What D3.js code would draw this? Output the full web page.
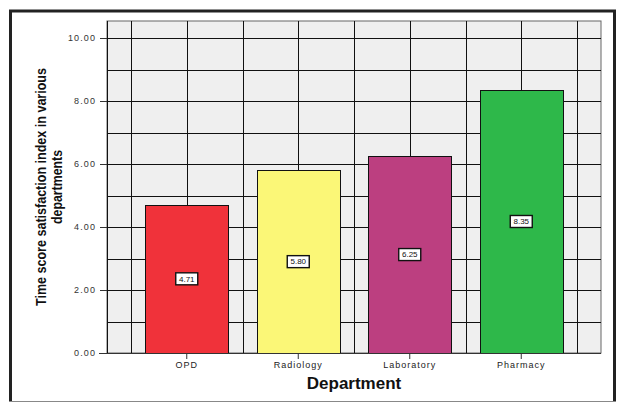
<!DOCTYPE html>
<html>
  <head>
    <meta charset="utf-8">
    <title>Time score satisfaction index</title>
    <script src="https://d3js.org/d3.v7.min.js"></script>
    <style>
      body { margin: 0; background: #fff; }
      text { font-family: "Liberation Sans", Arial, sans-serif; }
    </style>
  </head>
  <body>
    <script>
      // data
      var departments = ["OPD", "Radiology", "Laboratory", "Pharmacy"];
      var scores      = [4.71, 5.80, 6.25, 8.35];
      var barColors   = ["#f0323a", "#fbf777", "#bc3f80", "#2eb84a"];
      var yTicks      = [0, 2, 4, 6, 8, 10];

      var width = 617, height = 403;
      var plot = { left: 107, right: 601, top: 21, bottom: 353 };

      var svg = d3.select("body").append("svg")
        .attr("width", width)
        .attr("height", height);

      // outer frame
      svg.append("line").attr("x1", 10.5).attr("x2", 10.5).attr("y1", 10).attr("y2", 401)
        .attr("stroke", "#222").attr("stroke-width", 3);
      svg.append("line").attr("x1", 9).attr("x2", 616).attr("y1", 11).attr("y2", 11)
        .attr("stroke", "#222").attr("stroke-width", 3);
      svg.append("line").attr("x1", 614.5).attr("x2", 614.5).attr("y1", 10).attr("y2", 401)
        .attr("stroke", "#222").attr("stroke-width", 3);
      svg.append("line").attr("x1", 9).attr("x2", 616).attr("y1", 401.5).attr("y2", 401.5)
        .attr("stroke", "#888").attr("stroke-width", 1);

      var yScale = d3.scaleLinear()
        .domain([0, 10.54])
        .range([plot.bottom, plot.top]);

      var xScale = d3.scaleBand()
        .domain(departments)
        .range([plot.left + 24, plot.right - 24]);

      // plot background
      svg.append("rect")
        .attr("x", plot.left).attr("y", plot.top)
        .attr("width", plot.right - plot.left)
        .attr("height", plot.bottom - plot.top)
        .attr("fill", "#efefef")
        .attr("stroke", "#666");

      // grid lines: every unit horizontally, band edges and centres vertically
      var hGrid = d3.range(1, 11);
      svg.append("g").selectAll("line")
        .data(hGrid)
        .enter().append("line")
          .attr("x1", plot.left).attr("x2", plot.right)
          .attr("y1", function (d) { return Math.round(yScale(d)) + 0.5; })
          .attr("y2", function (d) { return Math.round(yScale(d)) + 0.5; })
          .attr("stroke", "#111");

      var vGrid = [];
      departments.forEach(function (d, i) {
        vGrid.push(xScale(d));
        vGrid.push(xScale(d) + xScale.bandwidth() / 2);
        if (i == departments.length - 1) vGrid.push(xScale(d) + xScale.bandwidth());
      });
      svg.append("g").selectAll("line")
        .data(vGrid)
        .enter().append("line")
          .attr("x1", function (d) { return Math.round(d) + 0.5; })
          .attr("x2", function (d) { return Math.round(d) + 0.5; })
          .attr("y1", plot.top).attr("y2", plot.bottom)
          .attr("stroke", "#111");

      svg.append("line")
        .attr("x1", plot.left + 0.5).attr("x2", plot.left + 0.5)
        .attr("y1", plot.top).attr("y2", plot.bottom)
        .attr("stroke", "#111");

      // bars
      var barW = xScale.bandwidth() * 0.745;
      svg.append("g").selectAll("rect")
        .data(scores)
        .enter().append("rect")
          .attr("x", function (d, i) { return Math.round(xScale(departments[i]) + (xScale.bandwidth() - barW) / 2) + 0.5; })
          .attr("y", function (d) { return Math.round(yScale(d)) + 0.5; })
          .attr("width", Math.round(barW))
          .attr("height", function (d) { return Math.round(yScale(0)) - Math.round(yScale(d)); })
          .attr("fill", function (d, i) { return barColors[i]; })
          .attr("stroke", "#111");

      // value labels
      var labels = svg.append("g").selectAll("g")
        .data(scores)
        .enter().append("g")
          .attr("transform", function (d, i) {
            return "translate(" + (xScale(departments[i]) + xScale.bandwidth() / 2) + "," + yScale(d / 2) + ")";
          });
      labels.append("rect")
        .attr("x", -11).attr("y", -6)
        .attr("width", 22).attr("height", 12)
        .attr("fill", "#fff")
        .attr("stroke", "#111")
        .attr("stroke-width", 1.4);
      labels.append("text")
        .attr("text-anchor", "middle")
        .attr("dy", "0.35em")
        .attr("font-size", 8)
        .attr("fill", "#111")
        .text(function (d) { return d3.format(".2f")(d); });

      // y axis
      var yAxis = svg.append("g")
        .attr("transform", "translate(" + plot.left + ",0)")
        .call(d3.axisLeft(yScale).tickValues(yTicks).tickSize(7).tickFormat(d3.format(".2f")));
      yAxis.select(".domain").remove();
      yAxis.selectAll(".tick line").attr("stroke", "#333");
      yAxis.selectAll("text")
        .attr("x", -11)
        .attr("font-size", 9)
        .attr("letter-spacing", 1.1)
        .attr("fill", "#333")
        .style("font-family", "'Liberation Sans', Arial, sans-serif");

      // x axis
      var xAxis = svg.append("g")
        .attr("transform", "translate(0," + plot.bottom + ")")
        .call(d3.axisBottom(xScale).tickSize(6).tickSizeOuter(0));
      xAxis.select(".domain").attr("d", "M" + (plot.left - 8) + ",0.5H" + plot.right).attr("stroke", "#333");
      xAxis.selectAll(".tick line").attr("stroke", "#333");
      xAxis.selectAll("text")
        .attr("y", 9)
        .attr("font-size", 9)
        .attr("letter-spacing", 1)
        .attr("fill", "#222")
        .style("font-family", "'Liberation Sans', Arial, sans-serif");

      // axis titles
      svg.append("text")
        .attr("x", 354)
        .attr("y", 389)
        .attr("text-anchor", "middle")
        .attr("font-size", 17)
        .attr("font-weight", "bold")
        .attr("fill", "#111")
        .text("Department");

      var yTitle = svg.append("text")
        .attr("transform", "translate(46," + ((plot.top + plot.bottom) / 2) + ") rotate(-90)")
        .attr("text-anchor", "middle")
        .attr("font-size", 15)
        .attr("font-weight", "bold")
        .attr("fill", "#111");
      yTitle.append("tspan").attr("x", 0).attr("y", 0)
        .attr("textLength", 238).attr("lengthAdjust", "spacingAndGlyphs")
        .text("Time score satisfaction index in various");
      yTitle.append("tspan").attr("x", 0).attr("y", 16)
        .attr("textLength", 74).attr("lengthAdjust", "spacingAndGlyphs")
        .text("departments");
    </script>
  </body>
</html>
